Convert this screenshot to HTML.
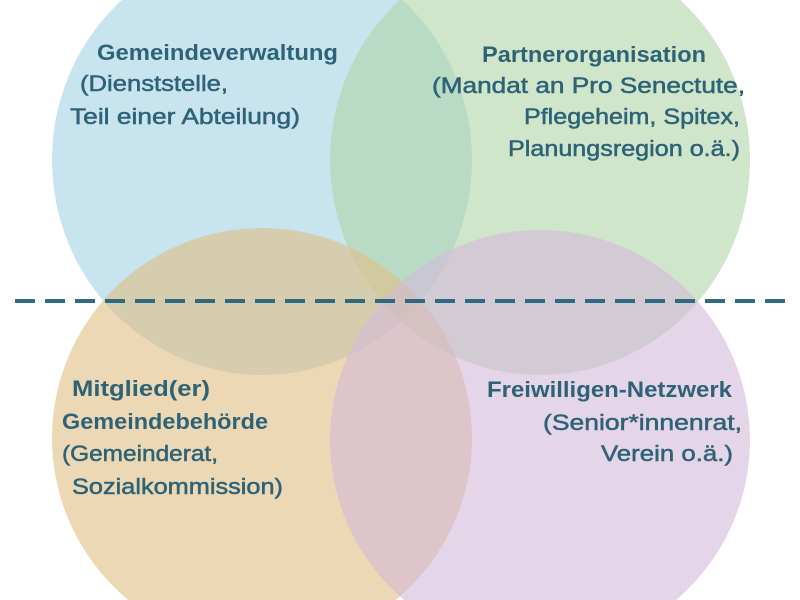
<!DOCTYPE html>
<html><head><meta charset="utf-8"><style>
html,body{margin:0;padding:0;background:#fff;width:800px;height:600px;overflow:hidden;}
svg{display:block;}
text{font-family:"Liberation Sans Narrow","Liberation Sans",sans-serif;fill:#2e6277;font-size:22px;}
.b{font-weight:bold;}
.n{stroke:#2e6277;stroke-width:0.5px;}
</style></head><body>
<svg width="800" height="600" viewBox="0 0 800 600" xmlns="http://www.w3.org/2000/svg">
<ellipse cx="262" cy="160" rx="210" ry="215" fill="#a3d2e4" opacity="0.6"/>
<ellipse cx="540" cy="160" rx="210" ry="215" fill="#afd5a8" opacity="0.6"/>
<ellipse cx="262" cy="438" rx="210" ry="210" fill="#dfbe84" opacity="0.6"/>
<ellipse cx="540" cy="440" rx="210" ry="210" fill="#d4b9d9" opacity="0.6"/>
<line x1="15" y1="301" x2="788" y2="301" stroke="#2e6b80" stroke-width="4" stroke-dasharray="20 10"/>
<text class="b" x="97" y="60" textLength="241" lengthAdjust="spacingAndGlyphs">Gemeindeverwaltung</text>
<text class="n" x="80" y="91" textLength="148" lengthAdjust="spacingAndGlyphs">(Dienststelle,</text>
<text class="n" x="70" y="124" textLength="230" lengthAdjust="spacingAndGlyphs">Teil einer Abteilung)</text>
<text class="b" x="482" y="62" textLength="224" lengthAdjust="spacingAndGlyphs">Partnerorganisation</text>
<text class="n" x="432" y="93" textLength="313" lengthAdjust="spacingAndGlyphs">(Mandat an Pro Senectute,</text>
<text class="n" x="524" y="124" textLength="216" lengthAdjust="spacingAndGlyphs">Pflegeheim, Spitex,</text>
<text class="n" x="508" y="156" textLength="232" lengthAdjust="spacingAndGlyphs">Planungsregion o.ä.)</text>
<text class="b" x="72" y="396" textLength="138" lengthAdjust="spacingAndGlyphs">Mitglied(er)</text>
<text class="b" x="62" y="429" textLength="206" lengthAdjust="spacingAndGlyphs">Gemeindebehörde</text>
<text class="n" x="62" y="461" textLength="156" lengthAdjust="spacingAndGlyphs">(Gemeinderat,</text>
<text class="n" x="72" y="494" textLength="211" lengthAdjust="spacingAndGlyphs">Sozialkommission)</text>
<text class="b" x="487" y="397" textLength="245" lengthAdjust="spacingAndGlyphs">Freiwilligen-Netzwerk</text>
<text class="n" x="543" y="430" textLength="199" lengthAdjust="spacingAndGlyphs">(Senior*innenrat,</text>
<text class="n" x="601" y="461" textLength="132" lengthAdjust="spacingAndGlyphs">Verein o.ä.)</text>
</svg>
</body></html>
